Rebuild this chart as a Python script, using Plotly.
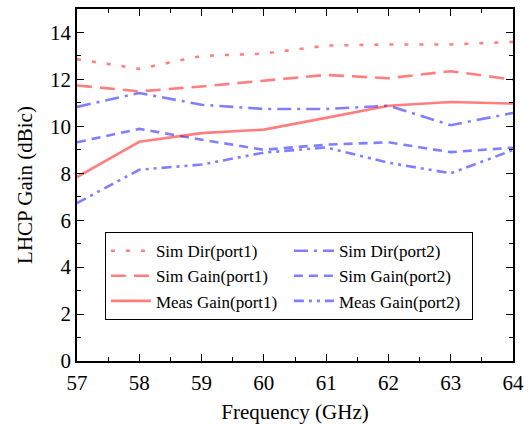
import plotly.graph_objects as go

freq = [57, 58, 59, 60, 61, 62, 63, 64]
sim_dir_p1 = [12.86, 12.45, 13.0, 13.1, 13.44, 13.49, 13.49, 13.6]
sim_dir_p2 = [10.83, 11.42, 10.92, 10.74, 10.74, 10.88, 10.05, 10.57]
sim_gain_p1 = [11.74, 11.49, 11.7, 11.96, 12.19, 12.05, 12.35, 11.99]
sim_gain_p2 = [9.32, 9.89, 9.43, 9.0, 9.22, 9.32, 8.9, 9.09]
meas_gain_p1 = [7.84, 9.34, 9.71, 9.86, 10.36, 10.88, 11.04, 10.97]
meas_gain_p2 = [6.73, 8.15, 8.37, 8.88, 9.1, 8.45, 8.0, 8.99]

RED = "rgba(255,0,0,0.5)"
BLUE = "rgba(0,0,255,0.5)"

series = [
    ("Sim Dir(port1)", sim_dir_p1, RED, "4px,11px"),
    ("Sim Dir(port2)", sim_dir_p2, BLUE, "14px,6px,3px,6px"),
    ("Sim Gain(port1)", sim_gain_p1, RED, "15px,8px"),
    ("Sim Gain(port2)", sim_gain_p2, BLUE, "9px,6px"),
    ("Meas Gain(port1)", meas_gain_p1, RED, "solid"),
    ("Meas Gain(port2)", meas_gain_p2, BLUE, "10px,5px,3px,5px,3px,5px"),
]

fig = go.Figure()
for name, ys, color, dash in series:
    fig.add_trace(go.Scatter(x=freq, y=ys, mode="lines", name=name,
                             line=dict(color=color, width=2.6, dash=dash)))

font = "Liberation Serif, serif"
axis_common = dict(
    showline=True, linecolor="black", linewidth=1.5, mirror="ticks",
    ticks="inside", ticklen=7, tickwidth=1.3, tickcolor="black",
    showgrid=False, zeroline=False, automargin=False,
    tickfont=dict(family=font, size=21, color="black"),
)
fig.update_layout(
    width=531, height=424,
    margin=dict(l=77, r=18, t=9, b=63),
    paper_bgcolor="white", plot_bgcolor="white",
    font=dict(family=font, size=17, color="black"),
    xaxis=dict(range=[57, 64], dtick=1, ticklabelstandoff=2,
               minor=dict(dtick=0.5, ticks="inside", ticklen=4, tickcolor="black"),
               title=dict(text="Frequency (GHz)", font=dict(family=font, size=21), standoff=13),
               **axis_common),
    yaxis=dict(range=[0, 15], tickvals=[0, 2, 4, 6, 8, 10, 12, 14],
               minor=dict(dtick=1, ticks="inside", ticklen=4, tickcolor="black"),
               title=dict(text="LHCP Gain (dBic)", font=dict(family=font, size=21), standoff=12),
               **axis_common),
    legend=dict(orientation="h", x=0.064, y=0.366, xanchor="left", yanchor="top",
                entrywidth=128, entrywidthmode="pixels",
                bordercolor="black", borderwidth=1, bgcolor="white",
                font=dict(family=font, size=17), tracegroupgap=0,
                itemwidth=40),
    showlegend=True,
)
fig.write_html("out.html",
               config={"displayModeBar": False},
               post_script="document.body.style.margin='0';document.documentElement.style.overflow='hidden';")
